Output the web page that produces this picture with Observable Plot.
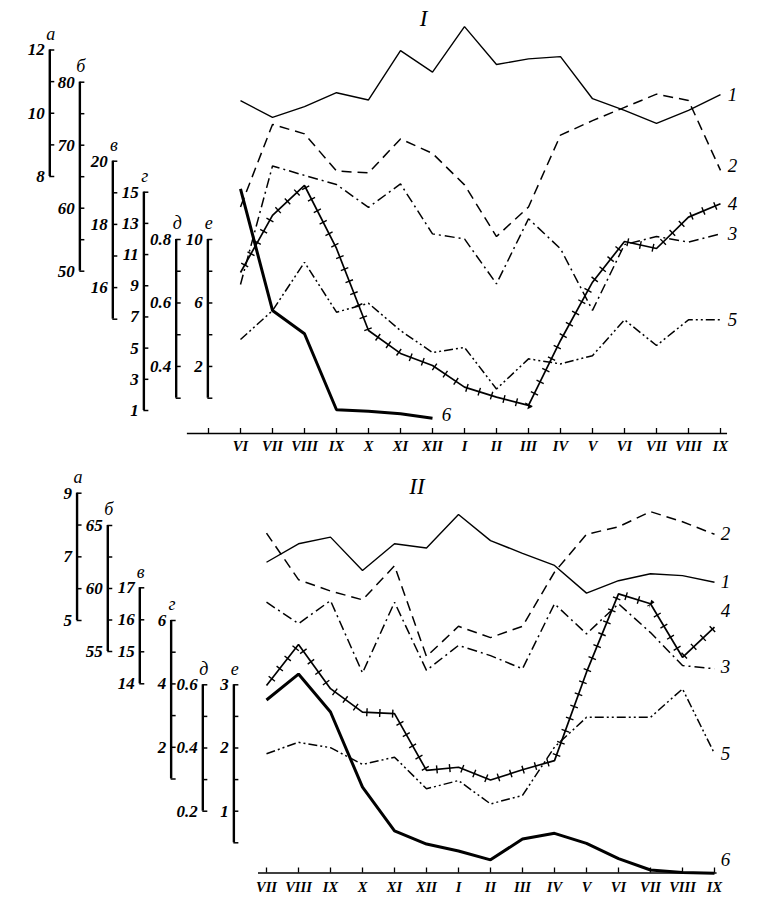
<!DOCTYPE html>
<html><head><meta charset="utf-8">
<script src="https://cdn.jsdelivr.net/npm/d3@7"></script>
<script src="https://cdn.jsdelivr.net/npm/@observablehq/plot@0.6"></script>
<style>
body{margin:0;background:#fff}
#chart svg{display:block;background:#fff}
</style>
</head><body><div id="chart"></div>
<script>
// ---------- DATA ----------
const monthsI  = ["VI","VII","VIII","IX","X","XI","XII","I","II","III","IV","V","VI","VII","VIII","IX"];
const monthsII = ["VII","VIII","IX","X","XI","XII","I","II","III","IV","V","VI","VII","VIII","IX"];
const axisLetters = ["а","б","в","г","д","е"];
const seriesNames = ["1","2","3","4","5","6"];

// Panel I
const I_s1 = [10.40, 9.87, 10.21, 10.65, 10.42, 11.98, 11.30, 12.74, 11.54, 11.72, 11.79, 10.46, 10.09, 9.68, 10.09, 10.59];
const I_s2 = [60.2, 73.3, 71.8, 65.9, 65.6, 71.0, 68.7, 63.7, 55.5, 60.2, 71.6, 73.9, 76.0, 78.1, 77.1, 66.0];
const I_s3 = [16.1, 19.85, 19.55, 19.26, 18.54, 19.28, 17.70, 17.54, 16.12, 18.18, 17.23, 15.28, 17.36, 17.62, 17.44, 17.70];
const I_s4 = [9.85, 13.51, 15.43, 11.39, 6.13, 4.66, 3.89, 2.50, 1.86, 1.33, 5.49, 9.23, 11.84, 11.39, 13.40, 14.26];
const I_s5 = [0.485, 0.576, 0.728, 0.571, 0.599, 0.513, 0.444, 0.460, 0.329, 0.424, 0.408, 0.434, 0.547, 0.466, 0.547, 0.547];
const I_s6 = [13.19, 5.53, 4.06, -0.73, -0.82, -0.98, -1.26];

// Panel I axis scales (а..е): value range and ticks
const I_ranges = [[8, 12], [50, 80], [15, 20], [1, 15], [0.3, 0.8], [0, 10]];
const I_ticks = [[8,9,10,11,12], [50,55,60,65,70,75,80], [15,16,17,18,19,20], [1,3,5,7,9,11,13,15], [0.3,0.4,0.5,0.6,0.7,0.8], [0,2,4,6,8,10]];
const I_tickLabels = [[8,10,12], [50,60,70,80], [16,18,20], [1,3,5,7,9,11,13,15], [0.4,0.6,0.8], [2,6,10]];

// Panel II
const II_s1 = [6.83, 7.41, 7.62, 6.57, 7.41, 7.28, 8.33, 7.51, 7.11, 6.73, 5.86, 6.25, 6.47, 6.41, 6.20];
const II_s2 = [64.4, 60.7, 59.8, 59.1, 61.8, 54.6, 57.0, 56.1, 57.0, 61.3, 64.3, 64.9, 66.1, 65.3, 64.3];
const II_s3 = [16.55, 15.88, 16.60, 14.34, 16.55, 14.42, 15.20, 14.88, 14.47, 16.50, 15.56, 16.50, 15.60, 14.57, 14.47];
const II_s4 = [3.95, 5.24, 3.85, 3.11, 3.06, 1.27, 1.37, 0.97, 1.29, 1.58, 4.37, 6.84, 6.53, 4.84, 5.79];
const II_s5 = [0.382, 0.418, 0.401, 0.348, 0.371, 0.271, 0.297, 0.223, 0.250, 0.403, 0.497, 0.497, 0.497, 0.587, 0.382];
const II_s6 = [2.76, 3.17, 2.57, 1.38, 0.69, 0.48, 0.37, 0.23, 0.56, 0.65, 0.49, 0.25, 0.07, 0.03, 0.02];

const II_ranges = [[5, 9], [55, 65], [14, 17], [1, 6], [0.2, 0.6], [0.5, 3]];
const II_ticks = [[5,6,7,8,9], [55,57.5,60,62.5,65], [14,15,16,17], [1,2,3,4,5,6], [0.2,0.3,0.4,0.5,0.6], [0.5,1,1.5,2,2.5,3]];
const II_tickLabels = [[5,7,9], [55,60,65], [14,15,16,17], [2,4,6], [0.2,0.4,0.6], [1,2,3]];

// ---------- LAYOUT (positions / styles) ----------
const layoutI = {
  title: "I", titleAt: [5.72, 415],
  height: 460, xDomain: [-7.5, 16.1875], yDomain: [-27, 433],
  axisCols: [-5.96, -5.02, -3.99, -3.02, -2.01, -1.02],
  axisPos: [[257, 383.5], [162.3, 351.3], [114.3, 272.3], [23, 241.3], [35.3, 194], [35.3, 194]],
  baseExtent: [-1.66, 15.22], tickFrom: -1, labelDy: 13,
  seriesLabelOffset: [[12,0],[12,-4],[12,0],[12,0],[12,0],[14,-3]]
};
const layoutII = {
  title: "II", titleAt: [4.7, 386],
  height: 443, xDomain: [-8.3125, 15.375], yDomain: [-30.5, 412.5],
  axisCols: [-5.92, -4.96, -3.96, -2.98, -1.99, -1.02],
  axisPos: [[252.5, 379.8], [221.5, 347.5], [189.2, 285.2], [94, 252.5], [61.8, 188.2], [30.2, 188.2]],
  baseExtent: [-0.25, 14.08], tickFrom: 0, labelDy: 14,
  seriesLabelOffset: [[11,0],[11,0],[11,-2],[11,-16],[11,0],[11,-13]]
};
const seriesStyle = [
  {strokeWidth: 1.4, dash: null},
  {strokeWidth: 1.5, dash: "10,6"},
  {strokeWidth: 1.5, dash: "10,4,2,4"},
  {strokeWidth: 1.7, dash: null, crosses: true},
  {strokeWidth: 1.5, dash: "9,3,2,3,2,3"},
  {strokeWidth: 3.0, dash: null}
];
const numFont = {fontFamily: "'Liberation Serif', serif", fontStyle: "italic", fontWeight: "bold"};

// Plot's dx/dy are constant per mark: build one label mark per datum when they vary
function textVar(data, opts) {
  return data.map(d => Plot.text([d], {...opts, dx: opts.dx(d), dy: opts.dy(d)}));
}

function panel(months, series, ranges, ticks, tickLabels, L) {
  const axes = ranges.map((r, k) => ({k, letter: axisLetters[k], col: L.axisCols[k], range: r, pos: L.axisPos[k]}));
  const toPos = (ax, v) => ax.pos[0] + (v - ax.range[0]) * (ax.pos[1] - ax.pos[0]) / (ax.range[1] - ax.range[0]);
  const tickData = [], labelData = [];
  axes.forEach((ax, k) => {
    ticks[k].forEach(t => tickData.push({col: ax.col, y: toPos(ax, t)}));
    tickLabels[k].forEach(t => labelData.push({col: ax.col, y: toPos(ax, t), t: String(t)}));
  });
  const lines = series.map((vals, k) => vals.map((v, i) => ({k, i, y: toPos(axes[k], v)})));
  const ends = lines.map((pts, k) => ({...pts[pts.length - 1], name: seriesNames[k], dx: L.seriesLabelOffset[k][0], dy: L.seriesLabelOffset[k][1]}));
  const monthData = months.map((m, i) => ({i, m}));
  const tickIdx = d3.range(L.tickFrom, months.length);
  const tickLen = 5;     // px
  const pxPerX = 32;

  const marks = [];
  // baseline + month ticks + labels
  marks.push(Plot.ruleY([0], {x1: L.baseExtent[0], x2: L.baseExtent[1], stroke: "#000", strokeWidth: 1.3}));
  marks.push(Plot.ruleX(tickIdx, {x: d => d, y1: 0, y2: tickLen, stroke: "#000", strokeWidth: 1.3}));
  marks.push(Plot.text(monthData, {x: "i", y: 0, text: "m", dy: L.labelDy, fontSize: 14.5, ...numFont}));
  // left axes
  marks.push(Plot.ruleX(axes, {x: "col", y1: d => d.pos[0], y2: d => d.pos[1], stroke: "#000", strokeWidth: 2.4}));
  marks.push(Plot.ruleY(tickData, {y: "y", x1: "col", x2: d => d.col + tickLen / pxPerX, stroke: "#000", strokeWidth: 1.5}));
  marks.push(Plot.text(labelData, {x: "col", y: "y", text: "t", textAnchor: "end", dx: -5, fontSize: 17, ...numFont}));
  marks.push(Plot.text(axes, {x: "col", y: d => d.pos[1], text: "letter", dy: -16, dx: 1, fontSize: 18, ...numFont, fontWeight: "normal"}));
  // series
  lines.forEach((pts, k) => {
    const st = seriesStyle[k];
    marks.push(Plot.line(pts, {x: "i", y: "y", stroke: "#000", strokeWidth: st.strokeWidth,
      strokeDasharray: st.dash || undefined, strokeLinecap: "butt", strokeLinejoin: "miter"}));
    if (st.crosses) {
      marks.push(Plot.line(pts, {x: "i", y: "y", stroke: "#000", strokeWidth: 8,
        strokeDasharray: "1.4,11.5", strokeDashoffset: 5, strokeLinecap: "butt", strokeLinejoin: "miter"}));
    }
  });
  marks.push(textVar(ends, {x: "i", y: "y", text: "name", dx: d => d.dx, dy: d => d.dy, fontSize: 19, ...numFont, fontWeight: "normal"}));
  // title
  marks.push(Plot.text([L.title], {x: () => L.titleAt[0], y: () => L.titleAt[1], text: d => d, fontSize: 23, fontFamily: "'Liberation Serif', serif", fontStyle: "italic"}));

  return Plot.plot({
    width: 758, height: L.height,
    marginLeft: 0, marginRight: 0, marginTop: 0, marginBottom: 0,
    x: {type: "linear", domain: L.xDomain, axis: null},
    y: {type: "linear", domain: L.yDomain, axis: null},
    style: {background: "#fff", color: "#000", overflow: "visible"},
    marks
  });
}

const el = document.getElementById("chart");
el.append(panel(monthsI, [I_s1, I_s2, I_s3, I_s4, I_s5, I_s6], I_ranges, I_ticks, I_tickLabels, layoutI));
el.append(panel(monthsII, [II_s1, II_s2, II_s3, II_s4, II_s5, II_s6], II_ranges, II_ticks, II_tickLabels, layoutII));
</script>
</body></html>
